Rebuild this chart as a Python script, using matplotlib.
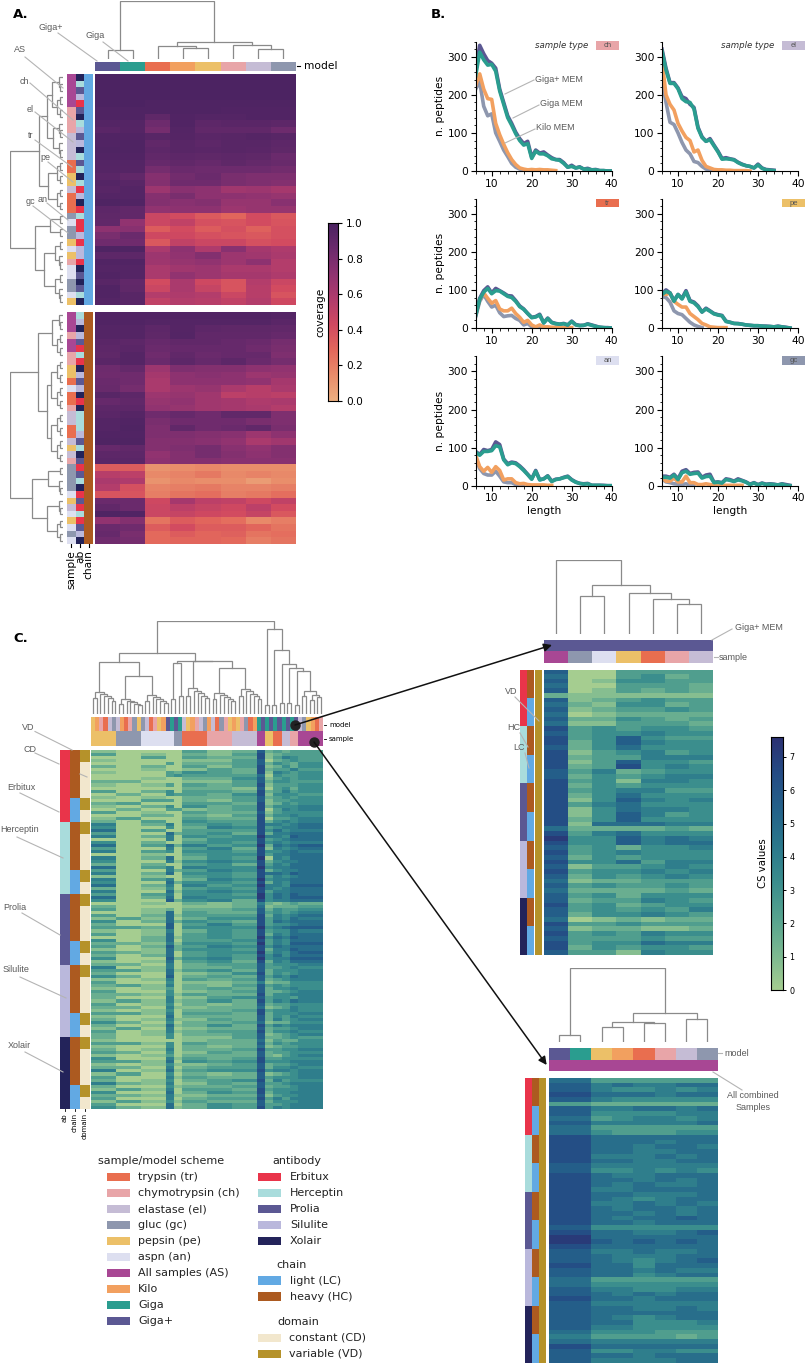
import numpy as np
import matplotlib
matplotlib.use('Agg')
import matplotlib.pyplot as plt
from matplotlib.colors import LinearSegmentedColormap, to_rgb
from matplotlib.ticker import MultipleLocator
from matplotlib.patches import Rectangle

W, H = 807, 1365

scheme = {'tr': '#e96e4f', 'ch': '#e8a5a8', 'el': '#c5bcd5', 'gc': '#8e97ae', 'pe': '#ecc068',
          'an': '#dddff0', 'AS': '#a84794', 'ki': '#f2a05f', 'gi': '#2a9d8f', 'g+': '#5b5893',
          'Er': '#e9344a', 'He': '#a9dcdc', 'Pr': '#5b5893', 'Si': '#bab8dc', 'Xo': '#23235a',
          'LC': '#62a9e3', 'HC': '#ac5a20', 'CD': '#f2e7cd', 'VD': '#b5922a'}

flare = LinearSegmentedColormap.from_list('flare', ['#edb081', '#e98d6b', '#e3685c', '#d14a61',
                                                    '#b13c6c', '#8f3371', '#6c2b6d', '#4b2362'])
crest = LinearSegmentedColormap.from_list('crest', ['#a5cd90', '#7ab891', '#56a38f', '#3a8d8d',
                                                    '#2b788c', '#24628a', '#244c85', '#2c3172'])

# ---- panel A data
a_models = ['g+', 'gi', 'tr', 'ki', 'pe', 'ch', 'el', 'gc']
a_top = [[99, 99, 99, 99, 99, 99, 99, 99], [99, 99, 99, 99, 99, 99, 99, 99], [99, 99, 99, 99, 99, 99, 99, 99],
         [99, 99, 99, 99, 99, 99, 99, 99], [99, 99, 98, 98, 98, 98, 98, 98], [98, 98, 98, 98, 98, 97, 97, 97],
         [98, 98, 91, 97, 96, 96, 97, 97], [96, 96, 85, 97, 92, 93, 93, 92], [93, 95, 82, 96, 90, 90, 90, 85],
         [97, 97, 94, 95, 93, 94, 95, 94], [97, 98, 90, 94, 92, 94, 94, 92], [98, 98, 92, 94, 93, 94, 93, 91],
         [97, 97, 90, 92, 91, 92, 91, 86], [96, 96, 88, 90, 88, 91, 89, 87], [95, 95, 82, 86, 85, 85, 85, 83],
         [93, 90, 75, 83, 86, 80, 78, 78], [96, 94, 76, 84, 84, 80, 78, 76], [94, 96, 66, 74, 72, 64, 66, 62],
         [96, 96, 75, 80, 72, 72, 70, 68], [98, 97, 76, 74, 76, 68, 68, 74], [92, 90, 70, 72, 72, 66, 68, 68],
         [91, 90, 46, 42, 35, 30, 42, 36], [90, 70, 46, 50, 40, 38, 42, 38], [72, 74, 34, 42, 34, 40, 32, 40],
         [80, 86, 44, 44, 40, 38, 36, 40], [84, 84, 36, 50, 46, 46, 40, 42], [98, 98, 60, 72, 58, 74, 62, 58],
         [92, 92, 66, 70, 76, 66, 64, 60], [97, 97, 65, 68, 70, 66, 72, 56], [96, 96, 60, 64, 66, 60, 60, 56],
         [97, 96, 60, 70, 66, 62, 62, 58], [94, 90, 42, 60, 44, 38, 56, 46], [97, 91, 46, 60, 48, 38, 54, 42],
         [97, 94, 56, 58, 56, 46, 54, 38], [96, 94, 50, 56, 54, 50, 56, 44]]
a_bot = [[97, 97, 97, 97, 97, 97, 97, 96], [97, 97, 96, 96, 96, 96, 96, 93], [96, 96, 92, 95, 92, 91, 91, 90],
         [96, 96, 91, 96, 90, 90, 90, 88], [93, 92, 88, 90, 90, 88, 86, 82], [92, 93, 86, 88, 88, 88, 84, 80],
         [91, 95, 84, 90, 86, 88, 88, 78], [93, 95, 86, 92, 88, 92, 86, 82], [85, 89, 66, 78, 76, 76, 72, 70],
         [84, 84, 62, 72, 74, 72, 66, 68], [86, 84, 60, 72, 72, 72, 70, 62], [87, 82, 60, 66, 68, 60, 54, 60],
         [94, 92, 66, 68, 64, 52, 54, 52], [88, 90, 68, 70, 64, 62, 58, 60], [92, 92, 70, 68, 64, 62, 60, 56],
         [93, 95, 84, 88, 84, 90, 90, 78], [96, 97, 80, 84, 84, 84, 80, 78], [96, 98, 78, 90, 84, 86, 90, 80],
         [97, 97, 78, 78, 76, 74, 66, 72], [98, 98, 76, 76, 74, 70, 60, 64], [88, 90, 76, 78, 82, 74, 70, 76],
         [92, 92, 70, 76, 82, 76, 72, 76], [93, 93, 72, 76, 76, 74, 74, 74], [34, 34, 12, 14, 16, 14, 14, 14],
         [54, 52, 16, 18, 22, 16, 18, 16], [60, 58, 12, 16, 14, 14, 8, 14], [56, 40, 18, 20, 22, 18, 18, 20],
         [38, 38, 20, 24, 26, 20, 22, 26], [86, 86, 44, 62, 52, 50, 44, 50], [90, 86, 46, 52, 48, 44, 52, 42],
         [98, 97, 46, 48, 44, 42, 48, 36], [70, 76, 24, 34, 30, 26, 16, 20], [86, 84, 34, 42, 34, 34, 30, 24],
         [88, 80, 28, 34, 30, 32, 24, 26], [84, 82, 28, 30, 30, 28, 20, 24]]
a_top_sample = 'AS AS AS AS AS ch ch ch ch el el el el tr tr pe pe el tr tr tr gc an gc gc pe an pe ch an an gc gc an pe'.split()
a_top_ab = 'Xo He Pr Si Er Pr Xo He Si Pr Si Xo He Pr He Xo He Er Si Xo Er He Er Er Si Er Si Si Er Xo Pr Xo Pr He Xo'.split()
a_bot_sample = 'AS AS AS ch AS AS ch ch pe pe tr an tr tr ch el el tr tr el pe el ch gc gc gc gc an pe el an pe an gc an'.split()
a_bot_ab = 'He Si Xo Si Pr Er He Er Xo Si Pr Si Xo Er Xo He He He Si Pr He Xo Pr Er Pr He Xo Er Pr Er He Er Pr Si Xo'.split()

# ---- panel B data, lengths start at 6
b_names = ['ch', 'el', 'tr', 'pe', 'an', 'gc']
b_gplus = {'ch': [262, 330, 308, 290, 283, 270, 215, 180, 145, 125, 102, 85, 72, 78, 36, 55, 47, 50, 42, 35, 30, 30, 22, 10, 15, 8, 11, 5, 7, 3, 4, 1, 1, 0, 0],
           'el': [320, 270, 232, 232, 218, 195, 190, 175, 167, 115, 90, 78, 85, 68, 52, 33, 35, 32, 30, 23, 18, 14, 12, 8, 18, 8, 4, 3, 2],
           'tr': [35, 78, 98, 108, 92, 104, 98, 92, 85, 84, 72, 58, 50, 38, 28, 30, 36, 14, 26, 15, 12, 10, 12, 8, 18, 9, 7, 7, 11, 8, 5, 2, 1, 1, 0],
           'pe': [90, 100, 92, 72, 88, 78, 98, 72, 68, 58, 42, 52, 45, 38, 35, 33, 18, 15, 12, 12, 10, 8, 7, 6, 6, 5, 5, 4, 3, 5, 3, 2, 0],
           'an': [90, 82, 95, 92, 95, 115, 108, 70, 58, 62, 60, 52, 42, 30, 18, 40, 16, 18, 26, 12, 17, 18, 22, 25, 16, 10, 6, 5, 6, 1, 1, 1, 1, 0, 0],
           'gc': [25, 25, 22, 30, 18, 38, 42, 32, 35, 36, 22, 28, 30, 9, 10, 8, 18, 16, 12, 18, 14, 10, 4, 8, 3, 7, 4, 5, 4, 2, 5, 3, 1]}
b_giga = {'ch': [250, 312, 292, 278, 280, 262, 210, 175, 140, 120, 98, 80, 68, 72, 33, 52, 45, 45, 40, 32, 30, 28, 20, 10, 12, 8, 10, 5, 5, 3, 3, 1, 1, 0, 0],
          'el': [315, 265, 230, 230, 216, 190, 182, 180, 163, 112, 88, 78, 82, 66, 50, 31, 32, 31, 29, 22, 17, 14, 12, 8, 16, 7, 3, 2, 1],
          'tr': [33, 75, 94, 104, 90, 98, 97, 90, 83, 80, 70, 56, 49, 38, 27, 29, 34, 13, 25, 14, 11, 10, 11, 8, 17, 8, 6, 7, 10, 7, 4, 2, 1, 0, 0],
          'pe': [88, 96, 92, 70, 88, 76, 95, 70, 66, 56, 42, 50, 44, 37, 34, 32, 17, 15, 12, 11, 10, 8, 7, 6, 6, 5, 4, 4, 3, 4, 3, 1, 0],
          'an': [88, 80, 90, 90, 92, 105, 102, 68, 55, 60, 58, 50, 40, 29, 17, 38, 15, 18, 25, 11, 16, 18, 21, 24, 15, 9, 6, 4, 5, 1, 1, 1, 0, 0, 0],
          'gc': [22, 22, 20, 28, 16, 34, 38, 30, 32, 33, 20, 24, 25, 8, 9, 7, 16, 14, 11, 15, 13, 9, 3, 7, 2, 6, 3, 4, 3, 2, 4, 1, 0]}
b_kilo = {'ch': [225, 255, 215, 190, 188, 125, 95, 70, 48, 30, 17, 8, 5, 3, 4, 3, 4, 3, 3, 2, 1],
          'el': [290, 200, 175, 160, 125, 105, 88, 80, 50, 55, 28, 12, 8, 4, 3, 3, 2, 2, 1, 1, 1, 1, 0],
          'tr': [35, 75, 92, 78, 65, 72, 50, 45, 45, 52, 38, 28, 15, 20, 8, 3, 8, 3, 3, 2, 2, 1, 1, 1, 1],
          'pe': [90, 88, 92, 70, 62, 55, 55, 38, 30, 22, 12, 8, 3, 2, 1, 1, 1],
          'an': [80, 50, 38, 48, 35, 50, 40, 15, 18, 18, 8, 5, 6, 3, 2, 2, 2, 2, 1, 1],
          'gc': [22, 12, 12, 20, 10, 10, 25, 8, 8, 3, 3, 5, 3, 1, 1, 1, 1, 1, 1, 1, 1]}
b_other = {'ch': [215, 235, 170, 145, 150, 100, 78, 55, 38, 20, 10, 5, 2, 1, 1],
           'el': [240, 180, 128, 122, 100, 75, 55, 45, 25, 22, 12, 5, 2, 1, 1],
           'tr': [30, 70, 88, 70, 55, 60, 40, 30, 32, 33, 25, 20, 8, 12, 3, 1, 2, 1, 1],
           'pe': [82, 80, 68, 45, 38, 35, 25, 15, 8, 4, 1],
           'an': [72, 45, 32, 28, 28, 38, 25, 10, 8, 8, 3, 2, 1],
           'gc': [18, 10, 8, 5, 4, 3, 5, 2, 1]}

# ---- panel C data, one digit per cell, a digit step is 0.8 CS
c_main = """10000312723233 30100213812333 00300322813543 10000113702343 00030223724324 20200313812424
00100132823353 10032432815434 00034333604334 00100224713434 22000113724433 10130323813334
00000221703424 30240332823534 02043324814443 10100223723434 00330213713344 23000332812434
10240423824445 02033123803545 30100322713444 00220213824454 13000322803345 20300433824545
50250343855456 40040254834556 60300333846455 30062342825566 50250434955476 00050244834566
40200343845455 60362534926567 30050352815456 50340443844565 00100344835566 50260243905466
40051454824556 20200342835466 60350544945566 30052354824556 50260443866576 10100343835456
50350254945566 40062443825466 60250534955477 20140343854566 50061454835566 30350443946576
60260544946577 40072452845566 00100212521232 20000112612223 30120223724334 00160322734345
30261333825456 13160244835465 40262432836566 20070353834456 33270444945677 10150243834465
30160343825466 00261343946576 40260334835466 22151443935477 30272354846566 10162443825576
32160344935467 20260343846466 40072453945577 10160342825466
22050233734445 50150223733454 33161342724445 20060124824345 42070232735465 10150323723455
30040112512244 23150213734344 10130232724454 30040123722345 22141322824455 20050134734435
13151242835465 30140212723344 22051122612354 10140223834454 33150332824445 10060222724354
20151132725345 42040223612244 20161242835455 13050122723345 30151233824454 20140223712345
20040113722343 10000122613224 33140322724344 10040212612334 20150223833445 32040132723344
10130222721345 40051323833444 33160434844455 10141123723345 22050233724454 50161344845545
13040212712345 30051322734445 20140234825344 52150132733455 20041223723345 13150332834445
40060243824455 22151122713445 30050233835355 13141322724445 30060243733455 42161243835455""".split()
c_main_repeat = [6, 6, 6, 2, 2, 6, 6, 6, 2, 2, 2, 2, 2, 6]
c_main_model = 'pe ki ch tr el gc el ki tr ch gc pe gc el tr ch pe ki g+ gi g+ gi el pe ki ch el gc ki el tr gc ch pe ki pe ch gc tr ki gi g+ gi g+ gi g+ gi g+ gi g+ el gc pe ki tr ch'.split()
c_main_sample = ['pe'] * 6 + ['gc'] * 6 + ['an'] * 8 + ['gc'] * 2 + ['tr'] * 6 + ['ch'] * 6 + ['el'] * 6 + \
    ['AS'] * 2 + ['pe'] * 2 + ['tr'] * 2 + ['el'] * 2 + ['ch'] * 2 + ['AS'] * 6
c_abs = ['Er', 'He', 'Pr', 'Si', 'Xo']
c_chain = ['HC'] * 16 + ['LC'] * 8
c_domain = ['VD'] * 4 + ['CD'] * 12 + ['VD'] * 4 + ['CD'] * 4

gp_samples = ['AS', 'gc', 'an', 'pe', 'tr', 'ch', 'el']
gp_values = """7003333 6003423 7014433 6003332 7013232 2111111 7123433 6214423 7123343 6012222 7224323 6113332
8343443 7344544 8347433 8247544 7246444 8134534 8233555 8137443 8238454 7352344 7243455 8341554
8243444 8345533 8246444 8147545 8356444 8146554 8147534 8247444 8166655 6222232 8356444 9447565
8447566 7342445 8345444 7243444 8446355 7133454 8344545 7243454 6122333 7343343 6222232 7342444
7233543 8342344 7343435 7244543 6012122 8334333 7122112 8343544 7333433 8344655 8243443 7331544""".split()
as_models = ['g+', 'gi', 'pe', 'ki', 'tr', 'ch', 'el', 'gc']
as_values = """66333333 77565566 77544545 88666566 77544444 33222222 77556656 77444455 66345545 77555556 66333333 66433344
88666666 88666566 88665665 88665566 88555656 88665566 77555555 77445454 88655666 88665656 88656556 88556666
88665556 88654566 88556565 88656656 88665656 88656676 88665666 77444444 88665567 99666666 99767676 88666666
77556556 77655566 77654567 88664666 77665655 77664566 66333333 66444444 77554455 77656566 88665666 77555555
77665565 77666666 77654566 77664445 77554444 66444333 55333323 66555555 88666666 77445544 77665666 77555566""".split()

# dendrograms: (height, left, right), 0 is a leaf
t2 = (.05, 0, 0)
t3 = (.08, 0, t2)
t4 = (.12, t2, t2)
t5 = (.16, t2, t3)
t6 = (.19, t3, t3)
t7 = (.2, t3, t4)
a_col_tree = (1, (.155, 0, 0), (.293, (.224, 0, (.195, 0, 0)), (.24, 0, (.178, 0, 0))))
a_top_tree = (1, (.45, (.3, t7, t6), (.28, t4, t4)), (.53, (.24, t2, t2), (.36, t5, t5)))
a_bot_tree = (1, (.48, t7, (.3, (.22, t4, t4), (.22, t4, t4))), (.58, (.29, t2, t3), (.3, t3, t4)))


def six(h):
    return (h, (.7 * h, 0, 0), (.9 * h, 0, (.8 * h, 0, (.7 * h, 0, (.6 * h, 0, 0)))))


c_tree = (1, (.66, (.56, six(.24), (.41, six(.16), six(.2))),
              (.573, (.55, (.16, 0, 0), (.19, 0, 0)),
               (.573, six(.28), (.49, six(.23), six(.27))))),
          (.91, (.097, 0, 0), (.69, (.1, 0, 0), (.54, (.12, 0, 0), (.49, (.115, 0, 0), (.465, (.1, 0, 0),
           (.25, (.19, 0, 0), (.2, (.15, 0, 0), (.18, 0, 0)))))))))
gp_tree = (1, 0, (.66, (.518, 0, 0), (.555, 0, (.468, 0, (.4, 0, 0)))))
as_tree = (1, (.095, 0, 0), (.386, (.268, (.195, 0, 0), (.25, 0, 0)), (.305, 0, 0)))

# legend contents
leg_scheme = [('tr', 'trypsin (tr)'), ('ch', 'chymotrypsin (ch)'), ('el', 'elastase (el)'), ('gc', 'gluc (gc)'),
              ('pe', 'pepsin (pe)'), ('an', 'aspn (an)'), ('AS', 'All samples (AS)'), ('ki', 'Kilo'),
              ('gi', 'Giga'), ('g+', 'Giga+')]
leg_ab = [('Er', 'Erbitux'), ('He', 'Herceptin'), ('Pr', 'Prolia'), ('Si', 'Silulite'), ('Xo', 'Xolair')]
leg_chain = [('LC', 'light (LC)'), ('HC', 'heavy (HC)')]
leg_domain = [('CD', 'constant (CD)'), ('VD', 'variable (VD)')]

fig = plt.figure(figsize=(W / 100, H / 100), dpi=100)


def ax_px(x0, y0, x1, y1):
    return fig.add_axes([x0 / W, 1 - y1 / H, (x1 - x0) / W, (y1 - y0) / H])


def strip(x0, y0, x1, y1, codes, vertical=False):
    # a row or column of annotation colours
    ax = ax_px(x0, y0, x1, y1)
    rgb = np.array([to_rgb(scheme[c]) for c in codes])
    rgb = rgb[:, None, :] if vertical else rgb[None, :, :]
    ax.imshow(rgb, aspect='auto', interpolation='nearest')
    ax.axis('off')
    return ax


def heat(x0, y0, x1, y1, values, cmap, vmin, vmax):
    ax = ax_px(x0, y0, x1, y1)
    im = ax.imshow(values, aspect='auto', interpolation='nearest', cmap=cmap, vmin=vmin, vmax=vmax)
    ax.axis('off')
    return im


def tree(x0, y0, x1, y1, node, left=False):
    ax = ax_px(x0, y0, x1, y1)
    count = [0]

    def walk(n):
        if n == 0:
            count[0] += 1
            return count[0] - .5, 0
        pa, ha = walk(n[1])
        pb, hb = walk(n[2])
        if left:
            ax.plot([ha, n[0], n[0], hb], [pa, pa, pb, pb], color='#8a8a8a', lw=.9, solid_joinstyle='miter')
        else:
            ax.plot([pa, pa, pb, pb], [ha, n[0], n[0], hb], color='#8a8a8a', lw=.9, solid_joinstyle='miter')
        return (pa + pb) / 2, n[0]

    walk(node)
    if left:
        ax.set_xlim(1, 0)
        ax.set_ylim(count[0], 0)
    else:
        ax.set_xlim(0, count[0])
        ax.set_ylim(0, 1)
    ax.axis('off')


def digits(rows):
    return np.array([[int(c) * .8 for c in r] for r in rows])


# panel A
a_top_arr = np.array(a_top) / 100
a_bot_arr = np.array(a_bot) / 100
tree(95, 1, 296, 59, a_col_tree)
strip(95, 62, 296, 71, a_models)
heat(95, 74, 296, 305, a_top_arr, flare, 0, 1)
heat(95, 312, 296, 544, a_bot_arr, flare, 0, 1)
tree(10, 74, 63, 305, a_top_tree, left=True)
tree(10, 312, 63, 544, a_bot_tree, left=True)
strip(67, 74, 75.5, 305, a_top_sample, vertical=True)
strip(75.5, 74, 84, 305, a_top_ab, vertical=True)
strip(84, 74, 92.5, 305, ['LC'] * 35, vertical=True)
strip(67, 312, 75.5, 544, a_bot_sample, vertical=True)
strip(75.5, 312, 84, 544, a_bot_ab, vertical=True)
strip(84, 312, 92.5, 544, ['HC'] * 35, vertical=True)

cax = ax_px(328, 223, 338, 401)
cax.imshow(np.linspace(1, 0, 256)[:, None], aspect='auto', cmap=flare, extent=[0, 1, 0, 1])
cax.set_xticks([])
cax.yaxis.tick_right()
cax.set_yticks([0, .2, .4, .6, .8, 1])
cax.set_yticklabels(['0.0', '0.2', '0.4', '0.6', '0.8', '1.0'], fontsize=7.6)
cax.tick_params(axis='y', length=3, width=.8, pad=3)
cax.set_ylabel('coverage', fontsize=7.6, labelpad=2)
cax.yaxis.set_label_position('left')

# panel B
for i, name in enumerate(b_names):
    row, col = i // 2, i % 2
    x0 = [475.7, 662][col]
    y1 = [171, 328, 485.7][row]
    ax = ax_px(x0, y1 - 129.5, x0 + 136, y1)
    for series, color in [(b_other, scheme['gc']), (b_kilo, scheme['ki']), (b_gplus, scheme['g+']), (b_giga, scheme['gi'])]:
        vals = series[name]
        ax.plot(np.arange(6, 6 + len(vals)), vals, color=color, lw=2.6, solid_joinstyle='round')
    ax.set_xlim(6, 40)
    ax.set_ylim(0, 340)
    ax.set_xticks([10, 20, 30, 40])
    ax.set_yticks([0, 100, 200, 300])
    ax.xaxis.set_minor_locator(MultipleLocator(2))
    ax.yaxis.set_minor_locator(MultipleLocator(20))
    ax.tick_params(axis='both', which='major', length=3.5, width=.8, labelsize=7.7, pad=2)
    ax.tick_params(axis='both', which='minor', length=1.8, width=.6)
    ax.spines['top'].set_visible(False)
    ax.spines['right'].set_visible(False)
    ax.patch.set_alpha(0)
    if col == 0:
        ax.set_ylabel('n. peptides', fontsize=7.7, labelpad=2)
    if row == 2:
        ax.set_xlabel('length', fontsize=7.7, labelpad=2)

# panel C main
c_vals = np.repeat(digits(c_main), c_main_repeat, axis=1)
tree(91, 621, 323, 714, c_tree)
strip(91, 717, 323, 731.5, c_main_model)
strip(91, 731.5, 323, 746, c_main_sample)
heat(91, 750, 323, 1109, c_vals, crest, 0, 7.6)
strip(60, 750, 69.5, 1109, [a for a in c_abs for _ in range(24)], vertical=True)
strip(69.5, 750, 79.5, 1109, c_chain * 5, vertical=True)
strip(79.5, 750, 89, 1109, c_domain * 5, vertical=True)

# panel C Giga+ MEM
tree(544, 560, 713, 634, gp_tree)
strip(544, 640, 713, 651, ['g+'] * 7)
strip(544, 651, 713, 663, gp_samples)
heat(544, 670, 713, 955, digits(gp_values), crest, 0, 7.6)
strip(520, 670, 527, 955, [a for a in c_abs for _ in range(12)], vertical=True)
strip(527, 670, 534, 955, (['HC'] * 6 + ['LC'] * 6) * 5, vertical=True)
strip(534.5, 670, 541, 955, ['VD'] * 60, vertical=True)

# panel C all samples
tree(548.7, 968, 717.7, 1041.5, as_tree)
strip(548.7, 1048, 717.7, 1060, as_models)
strip(548.7, 1060, 717.7, 1071, ['AS'] * 8)
heat(548.7, 1078, 717.7, 1363, digits(as_values), crest, 0, 7.6)
strip(524.7, 1078, 532, 1363, [a for a in c_abs for _ in range(12)], vertical=True)
strip(532, 1078, 539, 1363, (['HC'] * 6 + ['LC'] * 6) * 5, vertical=True)
strip(539, 1078, 546, 1363, ['VD'] * 60, vertical=True)

cax2 = ax_px(771, 737, 783, 990)
cax2.imshow(np.linspace(7.6, 0, 256)[:, None], aspect='auto', cmap=crest, extent=[0, 1, 0, 7.6])
cax2.set_xticks([])
cax2.yaxis.tick_right()
cax2.set_yticks(range(8))
cax2.tick_params(axis='y', length=2.5, width=.7, labelsize=5.8, pad=2)
cax2.set_ylabel('CS values', fontsize=7.3, labelpad=2)
cax2.yaxis.set_label_position('left')

# everything written in pixels goes on one overlay
ov = fig.add_axes([0, 0, 1, 1], zorder=10)
ov.set_xlim(0, W)
ov.set_ylim(H, 0)
ov.axis('off')
ov.patch.set_alpha(0)
GREY = '#5a5a5a'
LINE = '#b4b4b4'


def note(x, y, s, x0=None, y0=None, x1=None, y1=None, size=6.5, ha='center'):
    ov.text(x, y, s, fontsize=size, color=GREY, family='Liberation Sans', ha=ha, va='center')
    if x0 is not None:
        ov.plot([x0, x1], [y0, y1], color=LINE, lw=.8)


ov.text(13, 15, 'A.', fontsize=9.5, fontweight='bold', va='center')
ov.text(431, 15, 'B.', fontsize=9.5, fontweight='bold', va='center')
ov.text(13, 638, 'C.', fontsize=9.5, fontweight='bold', va='center')

note(51, 27, 'Giga+', 58, 33, 97, 61)
note(95, 35, 'Giga', 103, 42, 128, 61)
note(20, 50, 'AS', 25, 57, 63, 88)
note(24, 81, 'ch', 30, 83, 73, 120)
note(30, 109, 'el', 35, 112, 73, 142)
note(31, 135, 'tr', 35, 140, 72, 167)
note(45, 158, 'pe', 48, 162, 73, 182)
note(30, 202, 'gc', 33, 206, 68, 233)
note(43, 199, 'an', 47, 203, 68, 220)

ov.plot([297, 300], [66, 66], color='k', lw=.8)
ov.text(304, 66, 'model', fontsize=7.7, va='center')
for x, s in [(71, 'sample'), (80, 'ab'), (88.5, 'chain')]:
    ov.plot([x, x], [544, 547], color='k', lw=.8)
    ov.text(x, 550, s, fontsize=7.7, rotation=90, ha='center', va='top')

note(535, 79, 'Giga+ MEM', 534, 80, 505, 94, ha='left')
note(540, 103.5, 'Giga MEM', 539, 105, 513, 118, ha='left')
note(536, 127, 'Kilo MEM', 535, 129, 505, 143, ha='left')
for i, name in enumerate(b_names):
    row, col = i // 2, i % 2
    x0 = [596, 782][col]
    y0 = [41, 198.5, 356][row]
    ov.add_patch(Rectangle((x0, y0), 23, 8.7, color=scheme[name], lw=0))
    ov.text(x0 + 11.5, y0 + 4.6, name, fontsize=5.5, color='#555555', family='Liberation Sans', ha='center', va='center')
    if row == 0:
        ov.text(x0 - 8, 45, 'sample type', fontsize=6.2, style='italic', ha='right', va='center', color='#333333')

note(28, 728, 'VD', 35, 731.5, 72, 750)
note(30, 750, 'CD', 35, 753, 59, 764)
ov.plot([80, 87], [774, 777], color=LINE, lw=.8)
note(21, 787, 'Erbitux', 20, 793, 59, 812)
note(20, 830, 'Herceptin', 17, 837, 63, 858)
note(15, 907, 'Prolia', 22, 913, 60, 935)
note(16, 970, 'Silulite', 20, 977, 66, 998)
note(19, 1046, 'Xolair', 25, 1052, 63, 1072)

for y, s in [(725, 'model'), (739, 'sample')]:
    ov.plot([324, 326], [y, y], color='k', lw=.6)
    ov.text(329, y, s, fontsize=5, va='center')
for x, s in [(65, 'ab'), (75, 'chain'), (85, 'domain')]:
    ov.plot([x, x], [1109, 1111], color='k', lw=.6)
    ov.text(x, 1113, s, fontsize=5, rotation=90, ha='center', va='top')

note(735, 628, 'Giga+ MEM', 712, 640, 732, 629, ha='left')
note(719, 657, 'sample', 714, 657, 718, 657, ha='left')
note(511, 692, 'VD', 515, 697, 539, 721)
note(514, 727, 'HC', 520, 733, 528, 747)
note(519, 747, 'LC', 525, 753, 529, 768)
note(724, 1053, 'model', 718, 1053, 722, 1053, ha='left')
note(753, 1096, 'All combined')
note(753, 1107, 'Samples', 713, 1072, 742, 1090)

# black arrows into the zoomed maps
for x0, y0, x1, y1 in [(295, 725, 552, 645), (314, 742, 546.7, 1065)]:
    ov.plot(x0, y0, 'o', color='#222222', ms=6.5)
    ov.annotate('', xy=(x1, y1), xytext=(x0, y0),
                arrowprops=dict(arrowstyle='-|>', color='#111111', lw=1.1, mutation_scale=12, shrinkA=0, shrinkB=0))


def legend_block(title, title_x, title_y, items, patch_x, text_x, first_y):
    ov.text(title_x, title_y, title, fontsize=8, va='center', color='#222222')
    for i, (code, label) in enumerate(items):
        y = first_y + 16 * i
        ov.add_patch(Rectangle((patch_x, y - 4.2), 23, 8.4, color=scheme[code], lw=0))
        ov.text(text_x, y, label, fontsize=8, va='center', color='#222222')


legend_block('sample/model scheme', 98, 1161, leg_scheme, 107, 138, 1177)
legend_block('antibody', 272, 1161, leg_ab, 258, 290, 1177)
legend_block('chain', 276, 1265, leg_chain, 258, 290, 1280.5)
legend_block('domain', 277, 1322, leg_domain, 257.7, 289, 1338)

fig.savefig('out.png', dpi=100)
